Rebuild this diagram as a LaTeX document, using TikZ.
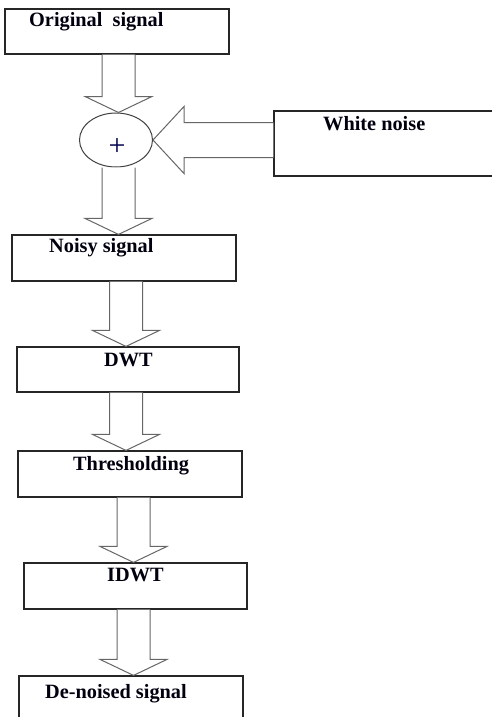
\documentclass[tikz,border=0pt]{standalone}
\usepackage{fontspec}
\setmainfont{Liberation Serif}
\usetikzlibrary{calc,shapes.geometric}
\tikzset{
  box/.style={draw=black!85, line width=1.2pt, inner sep=0pt},
  lbl/.style={font=\fontsize{20.3}{24}\selectfont\bfseries, text=black!85!blue!40!black, inner sep=0pt, anchor=base west},
  blockarrow/.style={draw=black!60, line width=1pt, line join=miter, fill=white},
}
\newcommand\blockdown[3]{%
  \draw[blockarrow] let \p1=(#1.south), \p2=(#2.north) in
    (#3-16.5pt,\y1) -- (#3-16.5pt,\y2+16pt) -- (#3-33.5pt,\y2+16pt) -- (#3,\y2)
    -- (#3+33.5pt,\y2+16pt) -- (#3+16.5pt,\y2+16pt) -- (#3+16.5pt,\y1);}
\begin{document}
\begin{tikzpicture}[x=1pt,y=-1pt]
\useasboundingbox (0,0) rectangle (492,717);
\clip (0,0) rectangle (492,717);
% boxes
\node[box, minimum width=224pt, minimum height=45pt] (orig) at (117,31.5) {};
\node[box, minimum width=240pt, minimum height=65pt] (white) at (394,143.5) {};
\node[box, minimum width=224pt, minimum height=46pt] (noisy) at (124,258) {};
\node[box, minimum width=222pt, minimum height=45pt] (dwt) at (128,369.5) {};
\node[box, minimum width=224pt, minimum height=46pt] (thr) at (130,474) {};
\node[box, minimum width=223pt, minimum height=46pt] (idwt) at (135.5,586) {};
\node[box, minimum width=224pt, minimum height=60pt] (den) at (131,706) {};
\node[ellipse, draw=black!75, line width=1pt, minimum width=73pt, minimum height=54pt, inner sep=0pt] (sum) at (116,140) {};
% labels
\node[lbl] (origt) at (29,27) {Original\ \ signal};
\node[lbl] (whitet) at (323,130) {White noise};
\node[lbl] (noisyt) at (49,252) {Noisy signal};
\node[lbl] (dwtt) at (104,366) {DWT};
\node[lbl] (thrt) at (73,470) {Thresholding};
\node[lbl] (idwtt) at (107,581) {IDWT};
\node[lbl] (dent) at (45,698) {De-noised signal};
\node[font=\fontsize{30}{34}\selectfont, text=black!70!blue, inner sep=0pt] (plus) at (117,147) {+};
% block arrows
\blockdown{orig}{sum}{118.5pt}
\blockdown{sum}{noisy}{118.5pt}
\blockdown{noisy}{dwt}{126pt}
\blockdown{dwt}{thr}{126pt}
\blockdown{thr}{idwt}{133.5pt}
\blockdown{idwt}{den}{133.5pt}
\draw[blockarrow] let \p1=(white.west), \p2=(sum.east) in
  (\x1,\y2+17.5pt) -- (\x2+31pt,\y2+17.5pt) -- (\x2+31pt,\y2+33.5pt) -- (\x2,\y2)
  -- (\x2+31pt,\y2-33.5pt) -- (\x2+31pt,\y2-17.5pt) -- (\x1,\y2-17.5pt);
\end{tikzpicture}
\end{document}
